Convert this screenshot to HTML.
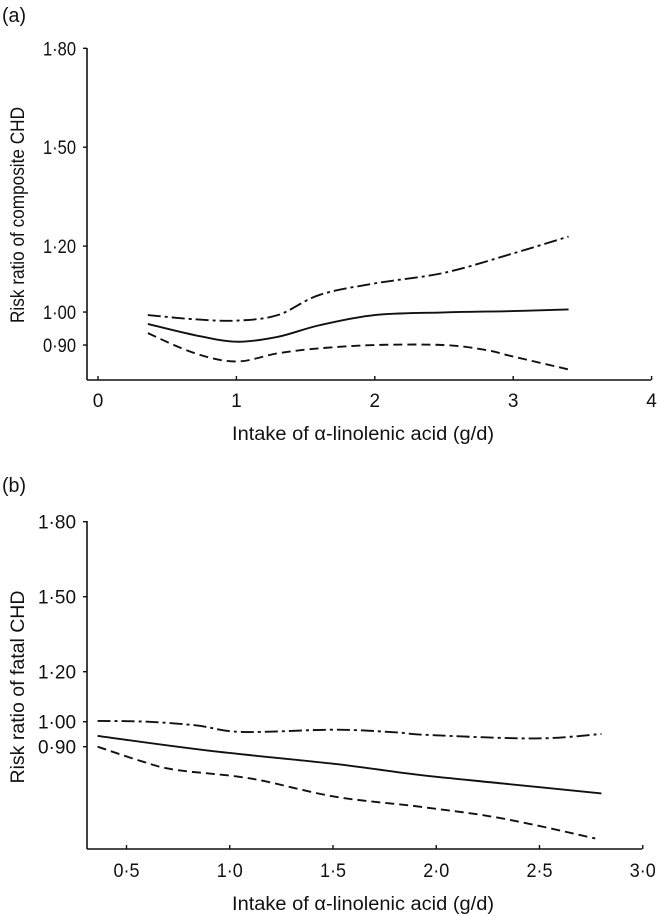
<!DOCTYPE html>
<html><head><meta charset="utf-8">
<style>
html,body{margin:0;padding:0;background:#fff;}
svg{display:block;font-family:"Liberation Sans",Arial,sans-serif;}
</style></head>
<body>
<svg id="fig" width="657" height="916" viewBox="0 0 657 916"></svg>
<script>
// Panel (a) data
const aYTicks = [1.80, 1.50, 1.20, 1.00, 0.90];
const aYTickLabels = ["1·80", "1·50", "1·20", "1·00", "0·90"];
const aXTicks = [0, 1, 2, 3, 4];
const aXTickLabels = ["0", "1", "2", "3", "4"];
const aX = [0.36, 0.7, 1.0, 1.3, 1.6, 2.0, 2.5, 3.0, 3.4];
const aEst = [0.964, 0.93, 0.91, 0.925, 0.96, 0.991, 0.999, 1.003, 1.008];
const aUpperX = [0.36, 0.7, 1.0, 1.3, 1.6, 2.0, 2.5, 3.0, 3.4];
const aUpper = [0.991, 0.978, 0.974, 0.991, 1.052, 1.087, 1.119, 1.178, 1.229];
const aLowerX = [0.36, 0.7, 1.0, 1.3, 1.6, 2.0, 2.5, 2.8, 3.0, 3.4];
const aLower = [0.936, 0.875, 0.85, 0.875, 0.89, 0.90, 0.90, 0.885, 0.865, 0.826];

// Panel (b) data
const bYTicks = [1.80, 1.50, 1.20, 1.00, 0.90];
const bYTickLabels = ["1·80", "1·50", "1·20", "1·00", "0·90"];
const bXTicks = [0.5, 1.0, 1.5, 2.0, 2.5, 3.0];
const bXTickLabels = ["0·5", "1·0", "1·5", "2·0", "2·5", "3·0"];
const bX = [0.36, 0.9, 1.51, 1.92, 2.32, 2.80];
const bEst = [0.943, 0.884, 0.831, 0.787, 0.753, 0.713];
const bUpperX = [0.36, 0.6, 0.84, 1.06, 1.51, 1.81, 1.96, 2.48, 2.80];
const bUpper = [1.003, 1.0, 0.985, 0.959, 0.968, 0.957, 0.947, 0.933, 0.951];
const bLowerX = [0.36, 0.58, 0.74, 1.1, 1.51, 1.92, 2.32, 2.77];
const bLower = [0.90, 0.84, 0.807, 0.773, 0.70, 0.66, 0.613, 0.533];

const NS = "http://www.w3.org/2000/svg";
const svg = document.getElementById('fig');
function mk(tag, attrs, parent) {
  const e = document.createElementNS(NS, tag);
  for (const k in attrs) e.setAttribute(k, attrs[k]);
  (parent || svg).appendChild(e);
  return e;
}
function smoothPath(pts) {
  let d = "M" + pts[0][0] + "," + pts[0][1];
  for (let i = 0; i < pts.length - 1; i++) {
    const p0 = pts[Math.max(0, i - 1)], p1 = pts[i], p2 = pts[i + 1], p3 = pts[Math.min(pts.length - 1, i + 2)];
    const c1x = p1[0] + (p2[0] - p0[0]) / 6, c1y = p1[1] + (p2[1] - p0[1]) / 6;
    const c2x = p2[0] - (p3[0] - p1[0]) / 6, c2y = p2[1] - (p3[1] - p1[1]) / 6;
    d += " C" + c1x + "," + c1y + " " + c2x + "," + c2y + " " + p2[0] + "," + p2[1];
  }
  return d;
}
function panel(cfg) {
  const g = mk('g', {});
  
  
  const xs = v => cfg.x0 + (v - cfg.xv0) * cfg.xk;
  const ys = v => cfg.y0 + (cfg.yv0 - v) * cfg.yk;
  const lbl = mk('text', {x: 2, y: cfg.labelY, 'font-size': 20, fill: '#111', textLength: 24, lengthAdjust: 'spacingAndGlyphs'}, g);
  lbl.textContent = cfg.label;
  
  
  const ya = mk('line', {x1: cfg.axX, y1: cfg.axTop, x2: cfg.axX, y2: cfg.axBot, stroke: '#111', 'stroke-width': 1.6}, g);
  
  
  const xa = mk('line', {x1: cfg.axX, y1: cfg.axBot, x2: cfg.axRight, y2: cfg.axBot, stroke: '#111', 'stroke-width': 1.6}, g);
  
  
  cfg.yTicks.forEach((v, i) => {
    const y = ys(v);
    const t = mk('line', {x1: cfg.axX - 4, y1: y, x2: cfg.axX, y2: y, stroke: '#111', 'stroke-width': 1.4}, g);
    
    
    const tl = mk('text', {x: 76, y: y + 7, 'font-size': 19, 'text-anchor': 'end', fill: '#111', textLength: cfg.yLabW, lengthAdjust: 'spacingAndGlyphs'}, g);
    tl.textContent = cfg.yTickLabels[i];
    
    
  });
  cfg.xTicks.forEach((v, i) => {
    const x = xs(v);
    const t = mk('line', {x1: x, y1: cfg.axBot - 4, x2: x, y2: cfg.axBot, stroke: '#111', 'stroke-width': 1.4}, g);
    
    
    const attrs = {x: x, y: cfg.xLabY, 'font-size': 19, 'text-anchor': 'middle', fill: '#111'};
    if (cfg.xLabW) { attrs.textLength = cfg.xLabW; attrs.lengthAdjust = 'spacingAndGlyphs'; }
    const tl = mk('text', attrs, g);
    tl.textContent = cfg.xTickLabels[i];
    
    
  });
  const xt = mk('text', {x: 232, y: cfg.xTitleY, 'font-size': 19, fill: '#111', textLength: 262, lengthAdjust: 'spacingAndGlyphs'}, g);
  xt.textContent = "Intake of α-linolenic acid (g/d)";
  
  
  const yt = mk('text', {x: 0, y: 0, 'font-size': 19, fill: '#111', 'text-anchor': 'middle', textLength: cfg.yTitleW, lengthAdjust: 'spacingAndGlyphs', transform: 'translate(24,' + cfg.yTitleY + ') rotate(-90)'}, g);
  yt.textContent = cfg.yTitle;
  
  
  const series = [
    {name: 'estimate-line', xv: cfg.estX, yv: cfg.est, dash: 'none'},
    {name: 'upper-ci-line', xv: cfg.upX, yv: cfg.up, dash: '13 4 3 4'},
    {name: 'lower-ci-line', xv: cfg.loX, yv: cfg.lo, dash: '9 5'}
  ];
  series.forEach(s => {
    const pts = s.xv.map((v, i) => [xs(v), ys(s.yv[i])]);
    const p = mk('path', {d: smoothPath(pts), fill: 'none', stroke: '#111', 'stroke-width': 1.9, 'stroke-dasharray': s.dash}, g);
    
    
  });
}
panel({name: 'panel-a', label: '(a)', labelY: 22,
  x0: 98, xv0: 0, xk: 138.4, y0: 48.3, yv0: 1.8, yk: 329.7,
  axX: 87, axTop: 48, axBot: 380, axRight: 651,
  yTicks: aYTicks, yTickLabels: aYTickLabels, xTicks: aXTicks, xTickLabels: aXTickLabels,
  yLabW: 33, xLabW: 0,
  xLabY: 407, xTitleY: 440, yTitle: 'Risk ratio of composite CHD', yTitleY: 215, yTitleW: 216,
  estX: aX, est: aEst, upX: aUpperX, up: aUpper, loX: aLowerX, lo: aLower});
panel({name: 'panel-b', label: '(b)', labelY: 492,
  x0: 126.5, xv0: 0.5, xk: 206.5, y0: 521.7, yv0: 1.8, yk: 250,
  axX: 87, axTop: 521, axBot: 849, axRight: 642,
  yTicks: bYTicks, yTickLabels: bYTickLabels, xTicks: bXTicks, xTickLabels: bXTickLabels,
  yLabW: 38, xLabW: 26,
  xLabY: 877, xTitleY: 910, yTitle: 'Risk ratio of fatal CHD', yTitleY: 687, yTitleW: 193,
  estX: bX, est: bEst, upX: bUpperX, up: bUpper, loX: bLowerX, lo: bLower});
</script>
</body></html>
